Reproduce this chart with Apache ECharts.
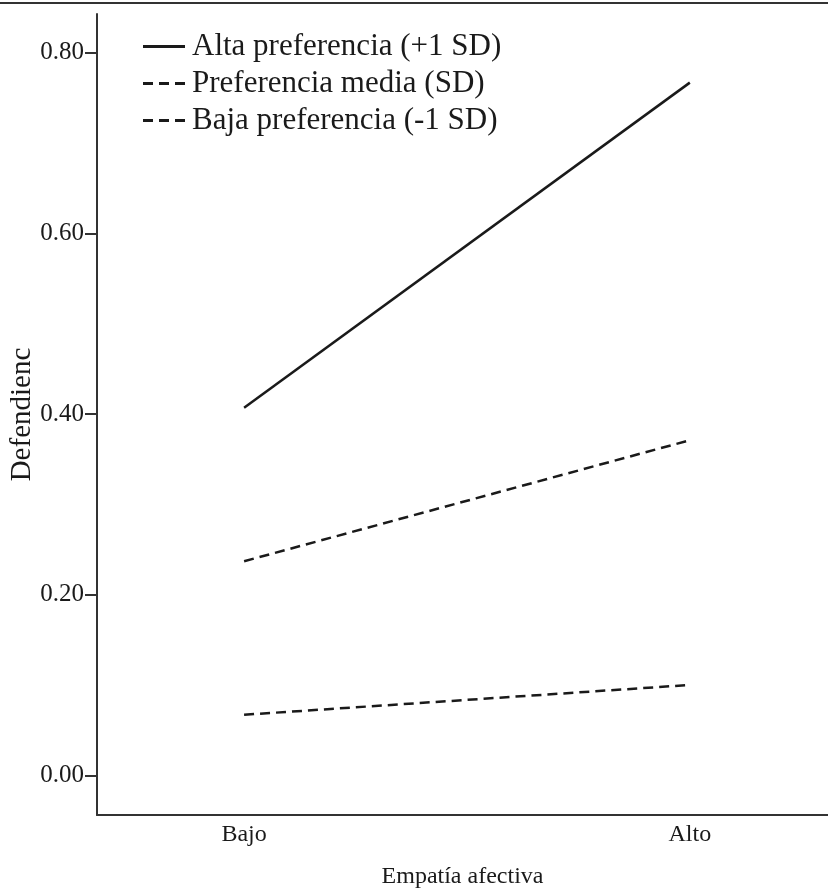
<!DOCTYPE html>
<html>
<head>
<meta charset="utf-8">
<script src="https://cdn.jsdelivr.net/npm/echarts@6/dist/echarts.min.js"></script>
<style>
html,body{margin:0;padding:0;background:#fff;}
#chart{width:828px;height:890px;}
</style>
</head>
<body>
<div id="chart"></div>
<script>
var categories = ['Bajo', 'Alto'];
var seriesNames = ['Alta preferencia (+1 SD)', 'Preferencia media (SD)', 'Baja preferencia (-1 SD)'];
var alta = [0.407, 0.767];
var media = [0.237, 0.371];
var baja = [0.067, 0.100];
var yTicks = [0.00, 0.20, 0.40, 0.60, 0.80];
var xTitle = 'Empatía afectiva';
var yTitle = 'Defendienc';

var FONT = '"Liberation Serif", "Times New Roman", serif';
var INK = '#1a1a1a';
var SOLID_ICON = 'path://M0,0h42v3h-42z';
var DASH_ICON = 'path://M0,0h10v3h-10z M16,0h10v3h-10z M32,0h10v3h-10z';

function toPoints(arr) {
  return arr.map(function (v, i) { return [i, v]; });
}

var chart = echarts.init(document.getElementById('chart'), null, {renderer: 'canvas'});
var option = {
  backgroundColor: '#fff',
  animation: false,
  grid: {left: 97, right: 0, top: 14, bottom: 75, containLabel: false, outerBoundsMode: 'none'},
  graphic: [{
    type: 'line',
    shape: {x1: 0, y1: 3, x2: 828, y2: 3},
    style: {stroke: '#333', lineWidth: 2}
  }],
  legend: {
    orient: 'vertical',
    left: 143,
    top: 31,
    padding: 0,
    itemWidth: 42,
    itemHeight: 3,
    itemGap: 6,
    data: [
      {name: seriesNames[0], icon: SOLID_ICON},
      {name: seriesNames[1], icon: DASH_ICON},
      {name: seriesNames[2], icon: DASH_ICON}
    ],
    itemStyle: {color: INK, borderWidth: 0},
    textStyle: {fontFamily: FONT, fontSize: 31, color: INK, padding: [0, 0, 0, 2]}
  },
  xAxis: {
    type: 'value',
    min: -0.33,
    max: 1.31,
    name: xTitle,
    nameLocation: 'middle',
    nameGap: 50,
    nameMoveOverlap: false,
    nameTextStyle: {fontFamily: FONT, fontSize: 24, color: INK},
    axisLine: {onZero: false, lineStyle: {color: '#333', width: 2}},
    axisTick: {show: false},
    splitLine: {show: false},
    axisLabel: {
      customValues: [0, 1],
      formatter: function (v) { return categories[Math.round(v)]; },
      fontFamily: FONT, fontSize: 24, color: INK, margin: 8
    }
  },
  yAxis: {
    type: 'value',
    min: -0.044,
    max: 0.843,
    name: yTitle,
    nameLocation: 'middle',
    nameGap: 60,
    nameMoveOverlap: false,
    nameTextStyle: {fontFamily: FONT, fontSize: 29, color: INK},
    axisLine: {onZero: false, lineStyle: {color: '#333', width: 2}},
    axisTick: {customValues: yTicks, length: 12, lineStyle: {color: '#333', width: 2}},
    splitLine: {show: false},
    axisLabel: {
      customValues: yTicks,
      formatter: function (v) { return v.toFixed(2); },
      fontFamily: FONT, fontSize: 25, color: INK, margin: 13
    }
  },
  series: [
    {name: seriesNames[0], type: 'line', data: toPoints(alta), symbol: 'none',
     lineStyle: {color: INK, width: 2.5, type: 'solid'}, itemStyle: {color: INK}},
    {name: seriesNames[1], type: 'line', data: toPoints(media), symbol: 'none',
     lineStyle: {color: INK, width: 2.5, type: [10, 6]}, itemStyle: {color: INK}},
    {name: seriesNames[2], type: 'line', data: toPoints(baja), symbol: 'none',
     lineStyle: {color: INK, width: 2.5, type: [10, 6]}, itemStyle: {color: INK}}
  ]
};
chart.setOption(option);
</script>
</body>
</html>
